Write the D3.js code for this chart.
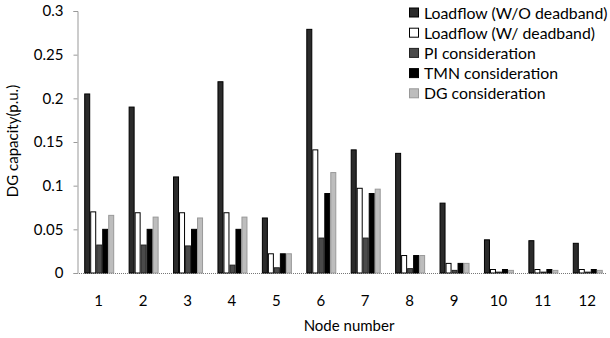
<!DOCTYPE html>
<html><head><meta charset="utf-8">
<script src="https://cdn.jsdelivr.net/npm/d3@7"></script>
<style>body{margin:0;background:#fff}svg{display:block}text{font-family:Lato,"Open Sans",sans-serif;fill:#000}</style>
</head><body><svg id="c" width="610" height="338"></svg>
<script>
const nodes = ["1","2","3","4","5","6","7","8","9","10","11","12"];
const seriesNames = ["Loadflow (W/O deadband)","Loadflow (W/ deadband)","PI consideration","TMN consideration","DG consideration"];
const loadflowWO = [0.205,0.19,0.11,0.219,0.063,0.279,0.141,0.137,0.08,0.038,0.037,0.034];
const loadflowW  = [0.070,0.069,0.069,0.069,0.022,0.141,0.097,0.020,0.011,0.004,0.004,0.004];
const piCons     = [0.032,0.032,0.031,0.009,0.006,0.040,0.040,0.005,0.003,0.001,0.001,0.001];
const tmnCons    = [0.050,0.050,0.050,0.050,0.022,0.091,0.091,0.020,0.011,0.004,0.004,0.004];
const dgCons     = [0.066,0.064,0.063,0.064,0.022,0.115,0.096,0.020,0.011,0.003,0.003,0.003];
const yTicks = [0,0.05,0.1,0.15,0.2,0.25,0.3];
const yTickLabels = ["0","0.05","0.1","0.15","0.2","0.25","0.3"];

const series = [loadflowWO, loadflowW, piCons, tmnCons, dgCons];
const fills = ["#2b2b2b","#ffffff","#4a4a4a","#000000","#bdbdbd"];
const strokes = ["#000","#000","#222","#000","#999"];

const svg = d3.select("#c");
const x = d3.scaleBand().domain(nodes).range([77, 610]).paddingInner(0).paddingOuter(0);
const xs = d3.scaleBand().domain(d3.range(5)).range([0, 30]).padding(0);
const y = d3.scaleLinear().domain([0, 0.3]).range([273, 11]);
const gx0 = x.bandwidth()/2 - 15;

// baseline
svg.append("line").attr("x1",77).attr("x2",606).attr("y1",y(0)+0.5).attr("y2",y(0)+0.5)
  .attr("stroke","#777").attr("stroke-dasharray","1,1");

// y axis
const yAxis = d3.axisLeft(y).tickValues(yTicks).tickFormat((d,i)=>yTickLabels[i]).tickSize(4).tickPadding(10);
const ga = svg.append("g").attr("transform","translate(77.5,0)").call(yAxis);
ga.select(".domain").attr("stroke","#999");
ga.selectAll(".tick line").attr("stroke","#999");
ga.selectAll("text").style("font-size","15px").attr("fill","#000");

// bars
series.forEach((vals, si) => {
  svg.append("g").selectAll("rect").data(vals).join("rect")
    .attr("x",(d,i)=>x(nodes[i]) + gx0 + xs(si) + 0.5)
    .attr("width", xs.bandwidth()-1)
    .attr("y", d=>y(d))
    .attr("height", d=>y(0)-y(d))
    .attr("fill", fills[si]).attr("stroke", strokes[si]).attr("stroke-width",1);
});

// x tick labels
svg.append("g").selectAll("text").data(nodes).join("text")
  .attr("x", d=>x(d)+x.bandwidth()/2 - 0.5).attr("y", 306)
  .attr("text-anchor","middle").style("font-size","15px").text(d=>d);

// axis titles
svg.append("text").attr("x",349).attr("y",331).attr("text-anchor","middle").style("font-size","15px").text("Node number");
svg.append("text").attr("transform","translate(18,141) rotate(-90)").attr("text-anchor","middle").style("font-size","15px").text("DG capacity(p.u.)");

// legend
const lg = svg.append("g");
seriesNames.forEach((n,i)=>{
  const yy = 13.5 + i*20.2;
  lg.append("rect").attr("x",409.5).attr("y",yy-5.5).attr("width",9).attr("height",9)
    .attr("fill",fills[i]).attr("stroke",strokes[i]);
  lg.append("text").attr("x",424).attr("y",yy+5).style("font-size","15.8px").text(n);
});
</script></body></html>
